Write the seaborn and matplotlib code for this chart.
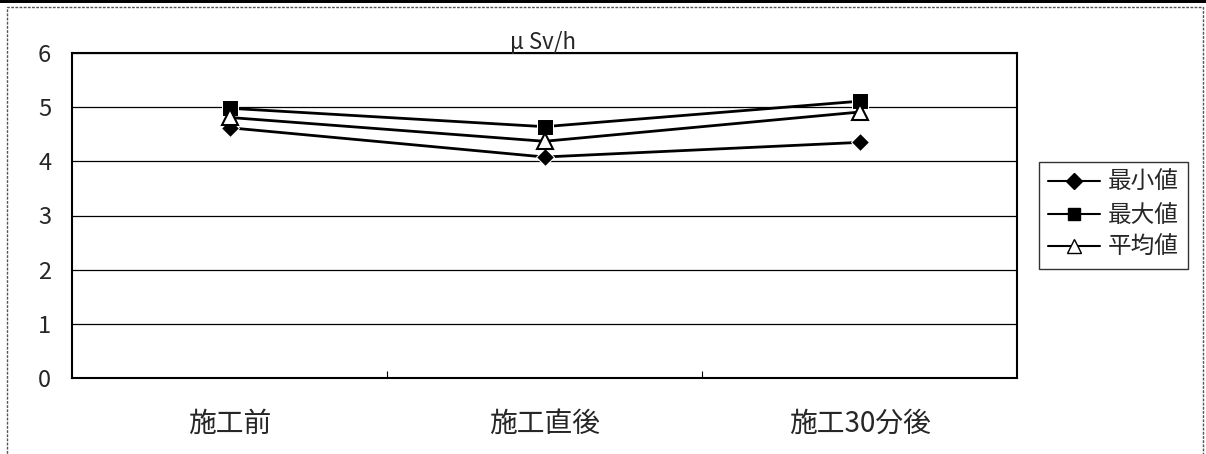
import numpy as np
import pandas as pd
import matplotlib
matplotlib.use('Agg')
import matplotlib.pyplot as plt
import seaborn as sns
from matplotlib.patches import Rectangle
from matplotlib.lines import Line2D

# data
categories = ['施工前', '施工直後', '施工30分後']
series_names = ['最小値', '最大値', '平均値']
min_vals = [4.62, 4.08, 4.35]
max_vals = [4.98, 4.64, 5.11]
avg_vals = [4.81, 4.37, 4.91]
y_ticks = [0, 1, 2, 3, 4, 5, 6]
unit_label = 'μ Sv/h'

df = pd.DataFrame({
    'category': categories * 3,
    'series': [s for s in series_names for _ in categories],
    'value': min_vals + max_vals + avg_vals,
})

sns.set_style('white')
plt.rcParams['font.family'] = ['Noto Sans CJK JP', 'DejaVu Sans']

W, H = 1206, 454
fig = plt.figure(figsize=(W / 100, H / 100), dpi=100)
ax = fig.add_axes([72 / W, 1 - 378 / H, (1017 - 72) / W, (378 - 53) / H])

markers = {'最小値': 'D', '最大値': 's', '平均値': '^'}
sns.lineplot(data=df, x='category', y='value', hue='series', style='series',
             palette=['black'] * 3, markers=markers, dashes=False,
             linewidth=2.0, markersize=11, ax=ax, legend=False, sort=False)

# white fill for the triangle markers
for line in ax.get_lines():
    if line.get_marker() == '^':
        line.set_markerfacecolor('white')
        line.set_markeredgecolor('black')
        line.set_markeredgewidth(1.5)
        line.set_markersize(12)
    elif line.get_marker() == 'D':
        line.set_markersize(9)

ax.set_xlim(-0.5, len(categories) - 0.5)
ax.set_ylim(0, 6)
ax.set_yticks(y_ticks)
ax.yaxis.grid(True, color='black', linewidth=0.9)
ax.set_axisbelow(True)
ax.set_xlabel('')
ax.set_ylabel('')
for sp in ax.spines.values():
    sp.set_color('black')
    sp.set_linewidth(1.5)

ax.set_xticks(range(len(categories)))
ax.set_xticklabels(categories, fontsize=20)
ax.tick_params(axis='x', which='major', length=0, pad=22)
ax.set_xticks([0.5, 1.5], minor=True)
ax.tick_params(axis='x', which='minor', bottom=True, direction='in',
               length=5, width=0.8, color='black')
ax.tick_params(axis='y', length=0, pad=15, labelsize=17)

fig.text(543 / W, 1 - 43 / H, unit_label, fontsize=16, ha='center', va='center')

handles = [
    Line2D([], [], color='black', lw=1.5, marker='D', markersize=8, markerfacecolor='black'),
    Line2D([], [], color='black', lw=1.5, marker='s', markersize=9, markerfacecolor='black'),
    Line2D([], [], color='black', lw=1.5, marker='^', markersize=10, markerfacecolor='white',
           markeredgecolor='black'),
]
leg = fig.legend(handles, series_names, loc='upper left',
                 bbox_to_anchor=(1039 / W, 1 - 162 / H), fontsize=17,
                 frameon=True, fancybox=False, handlelength=2.2, borderaxespad=0,
                 handletextpad=0.3, borderpad=0.4, labelspacing=0.4)
leg.get_frame().set_edgecolor('black')
leg.get_frame().set_linewidth(1.0)

# outer frame of the scanned chart
fig.patches.append(Rectangle((7 / W, -0.05), (1203 - 7) / W, 1 - 7 / H + 0.05,
                             transform=fig.transFigure, fill=False,
                             edgecolor='#555555', linewidth=1.0, linestyle=(0, (2, 1))))
fig.patches.append(Rectangle((0, 1 - 3 / H), 1, 3 / H, transform=fig.transFigure,
                             facecolor='black', edgecolor='none'))

fig.savefig('out.png', dpi=100)
